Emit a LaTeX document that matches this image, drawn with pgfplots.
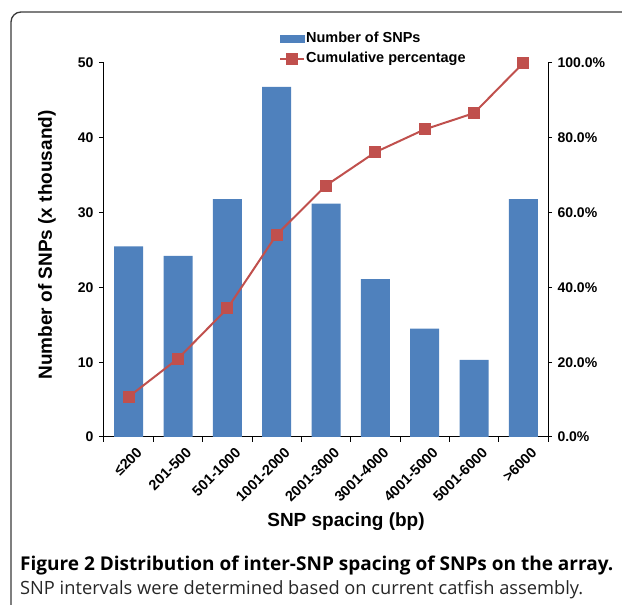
\documentclass[border=0pt]{standalone}
\usepackage{pgfplots}
\pgfplotsset{compat=1.18}
\usepackage{pgfplotstable}
\usepackage{fontspec}
\setmainfont{Liberation Sans}
\newfontfamily\capfont{Open Sans}
\definecolor{barblue}{HTML}{4F81BD}
\definecolor{linered}{HTML}{C0504D}
\definecolor{framegray}{HTML}{3A3A3A}
\pgfplotstableread{
x n c
0 25.5 10.75
1 24.2 20.95
2 31.8 34.36
3 46.8 54.09
4 31.2 67.24
5 21.1 76.14
6 14.5 82.25
7 10.3 86.59
8 31.8 100.0
}\data
\begin{document}
\begin{tikzpicture}
\useasboundingbox (0pt,0pt) rectangle (622pt,607pt);
\draw[framegray, line width=1.3pt, rounded corners=10pt] (11pt,2pt) -- (11pt,595pt) -- (640pt,595pt);
\begin{axis}[
  at={(104pt,170pt)}, anchor=south west, scale only axis,
  width=444pt, height=374pt,
  xmin=-0.5, xmax=8.5, ymin=0, ymax=50,
  axis y line*=left, axis x line*=bottom,
  axis line style={line width=1pt},
  ytick={0,10,...,50},
  xtick={0,...,8},
  xticklabels={≤200,201-500,501-1000,1001-2000,2001-3000,3001-4000,4001-5000,5001-6000,>6000},
  major x tick style={draw=none},
  minor xtick={-0.5,0.5,...,8.5},
  tick align=outside,
  major tick length=5pt, minor tick length=5pt,
  tick style={line width=1pt, black},
  /pgf/number format/assume math mode=true,
  yticklabel style={font=\bfseries\fontsize{14}{16}\selectfont, xshift=-2pt},
  xticklabel style={font=\bfseries\fontsize{14.5}{16}\selectfont, rotate=45, anchor=north east, inner sep=1pt, yshift=-7pt, xshift=3pt},
]
\addplot[ybar, bar width=29pt, fill=barblue, draw=none] table[x=x,y=n]{\data};
\end{axis}
\begin{axis}[
  at={(104pt,170pt)}, anchor=south west, scale only axis,
  width=444pt, height=374pt,
  xmin=-0.5, xmax=8.5, ymin=0, ymax=100,
  axis y line*=right, axis x line=none,
  axis line style={line width=1pt},
  ytick={0,20,...,100},
  yticklabels={0.0\%,20.0\%,40.0\%,60.0\%,80.0\%,100.0\%},
  tick align=outside,
  major tick length=4pt,
  tick style={line width=1pt, black},
  yticklabel style={font=\bfseries\fontsize{14}{16}\selectfont, xshift=2pt},
  legend style={at={(axis description cs:0.394,0.99)}, anchor=south west, draw=none, fill=none,
    inner sep=0pt, row sep=4pt, font=\bfseries\fontsize{14.5}{16}\selectfont,
    nodes={inner sep=1pt, text height=11pt, text depth=3pt}},
  legend cell align=left,
]
\addlegendimage{legend image code/.code={\fill[barblue] (0pt,-3.5pt) rectangle (24pt,3.5pt);}}
\addlegendentry{Number of SNPs}
\addplot[linered, line width=2pt, mark=square*, mark size=5pt, mark options={solid, fill=linered},
  legend image code/.code={\draw[linered,line width=2pt] (0pt,0pt)--(24pt,0pt); \fill[linered] (7pt,-5pt) rectangle (17pt,5pt);}]
  table[x=x,y=c]{\data};
\addlegendentry{Cumulative percentage}
\end{axis}
\node[rotate=90, font=\bfseries\fontsize{19}{22}\selectfont] at (47pt,362pt) {Number of SNPs (x thousand)};
\node[font=\bfseries\fontsize{19}{22}\selectfont] at (346pt,85pt) {SNP spacing (bp)};
\node[anchor=west, inner sep=0pt] at (20pt,41pt) {\resizebox{593pt}{!}{\capfont\bfseries Figure 2 Distribution of inter-SNP spacing of SNPs on the array.}};
\node[anchor=west, inner sep=0pt, text=black!85] at (20pt,17pt) {\resizebox{563pt}{!}{\capfont SNP intervals were determined based on current catfish assembly.}};
\end{tikzpicture}
\end{document}
